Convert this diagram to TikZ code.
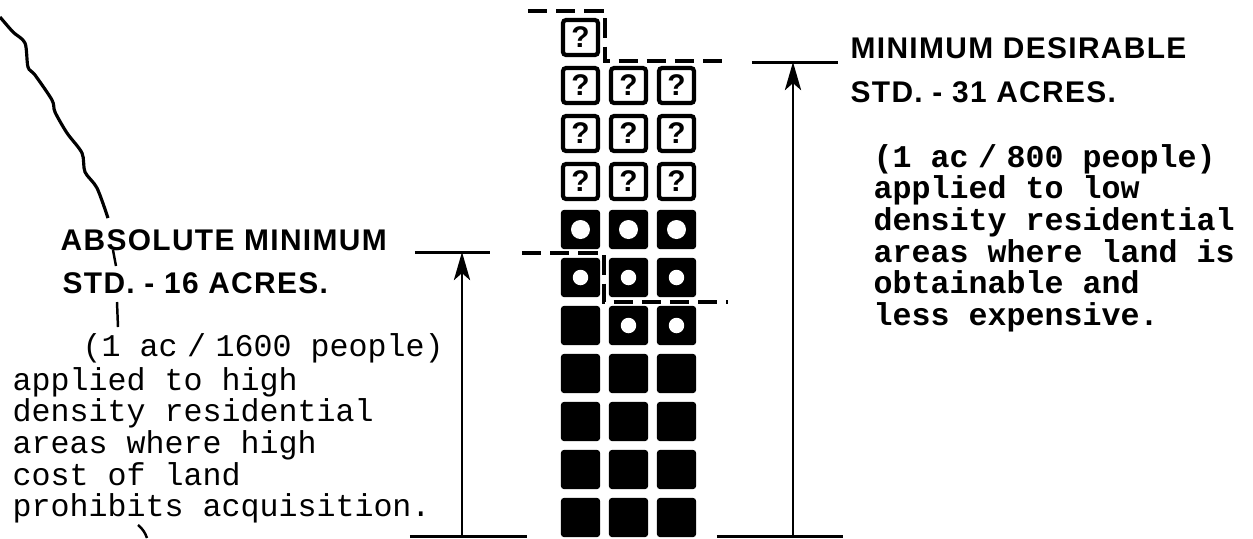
\documentclass[tikz,border=0pt]{standalone}
\usepackage{fontspec}
\setmainfont{Liberation Sans}
\newfontfamily\letterfont[LetterSpace=4.5]{Liberation Sans}
\newfontfamily\typefont{Liberation Mono}
\usetikzlibrary{arrows.meta}
\tikzset{
  sq/.style={minimum size=11.1pt,inner sep=0pt,rounded corners=.8pt},
  qbox/.style={sq,minimum size=9.9pt,draw,line width=1.2pt,font=\bfseries\fontsize{8.5}{8.5}\selectfont},
  fullbox/.style={sq,fill=black},
  dotbox/.style={fullbox,path picture={\fill[white] (path picture bounding box.center) circle (#1);}},
  dotbox/.default=2.2pt,
  lettering/.style={anchor=base west,inner sep=0pt,font=\letterfont\bfseries\fontsize{8.5}{8.5}\selectfont},
  typetext/.style={anchor=base west,inner sep=0pt,font=\typefont\fontsize{9}{9}\selectfont},
  typebold/.style={typetext,font=\typefont\bfseries\fontsize{9}{9}\selectfont},
  boundary/.style={line width=1.3pt,dash pattern=on 5.5pt off 2.5pt},
  dimline/.style={line width=.85pt},
  dimarrow/.style={dimline,-{Stealth[length=8pt,width=4.6pt,inset=2pt]}}
}
\begin{document}
\begin{tikzpicture}[x=0.01cm,y=-0.01cm]
\useasboundingbox (0,0) rectangle (1253,538);
\node[qbox] (sq-1-1) at (580.5,37.5) {?};
\foreach \r in {2,3,4}\foreach \c in {1,2,3}\node[qbox] (sq-\r-\c) at ({580.5+48*(\c-1)},{37.5+48*(\r-1)}) {?};
\foreach \c in {1,2,3}\node[dotbox=2.7pt] (sq-5-\c) at ({580.5+48*(\c-1)},229.5) {};
\foreach \c in {1,2,3}\node[dotbox] (sq-6-\c) at ({580.5+48*(\c-1)},277.5) {};
\node[fullbox] (sq-7-1) at (580.5,325.5) {};
\foreach \c in {2,3}\node[dotbox] (sq-7-\c) at ({580.5+48*(\c-1)},325.5) {};
\foreach \r in {8,...,11}\foreach \c in {1,2,3}\node[fullbox] (sq-\r-\c) at ({580.5+48*(\c-1)},{37.5+48*(\r-1)}) {};
\draw[boundary] (528,11) -- (605,11) -- (605,61) -- (730,61);
\draw[boundary] (522,253) -- (604,253) -- (604,302) -- (728,302);
\coordinate (absbase) at (462,536); \coordinate (abstop) at (462,252);
\coordinate (desbase) at (793,536); \coordinate (destop) at (793,62);
\draw[dimline] (415,252) -- (490,252) (410,536) -- (527,536);
\draw[dimline] (752,62) -- (838,62) (717,536) -- (843,536);
\draw[dimarrow] (absbase) -- (abstop);
\draw[dimarrow] (desbase) -- (destop);
\node[lettering] (absmin) at (60,250) {ABSOLUTE MINIMUM};
\node[lettering] (absstd) at (62,293) {STD. - 16 ACRES.};
\node[lettering] (desmin) at (850,58) {MINIMUM DESIRABLE};
\node[lettering] (desstd) at (850,102) {STD. - 31 ACRES.};
\node[typetext] (abspeople) at (82,356) {(1 ac \kern-.3em/\kern-.3em{} 1600 people)};
\node[typebold] (despeople) at (873,167) {(1 ac \kern-.3em/\kern-.3em{} 800 people)};
\foreach \t [count=\i from 0] in {applied to high,density residential,areas where high,cost of land,prohibits acquisition.}
  \node[typetext] (absline-\i) at (12,{390+31.7*\i}) {\t};
\foreach \t [count=\i from 0] in {applied to low,density residential,areas where land is,obtainable and,less expensive.}
  \node[typebold] (desline-\i) at (873,{198.7+31.7*\i}) {\t};
\draw[line width=.9pt] plot[smooth] coordinates {(0,17) (13,32) (25,43) (28,67) (35,75) (52,100) (55,112) (67,133) (82,153) (85,172) (97,188) (108,218)};
\draw[line width=.7pt] (113,250) -- (116,266) (117,302) -- (118,327);
\draw[line width=.7pt] (138,525) to[bend left=15] (147,538);
\end{tikzpicture}
\end{document}
